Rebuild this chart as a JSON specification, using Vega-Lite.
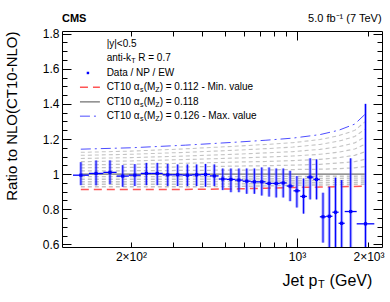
{
  "$schema": "https://vega.github.io/schema/vega-lite/v6.json",
  "width": 320,
  "height": 216,
  "autosize": {"type": "none"},
  "padding": {"left": 62, "top": 31, "right": 8, "bottom": 55},
  "background": "white",
  "config": {
    "font": "Liberation Sans",
    "view": {"stroke": "black", "strokeWidth": 1},
    "axis": {"domain": false, "grid": false, "tickColor": "black", "labelColor": "black", "labelFont": "Liberation Sans", "labelFontSize": 12, "titleFont": "Liberation Sans", "titleColor": "black", "titleFontWeight": "normal"}
  },
  "datasets": {
    "theory": [
      {"pt": 123, "a112": 0.913, "a113": 0.9275, "a114": 0.942, "a115": 0.9565, "a116": 0.971, "a117": 0.9855, "a118": 1, "a119": 1.018, "a120": 1.036, "a121": 1.053, "a122": 1.071, "a123": 1.089, "a124": 1.107, "a125": 1.124, "a126": 1.142},
      {"pt": 200, "a112": 0.913, "a113": 0.928, "a114": 0.942, "a115": 0.957, "a116": 0.971, "a117": 0.986, "a118": 1, "a119": 1.019, "a120": 1.038, "a121": 1.056, "a122": 1.075, "a123": 1.094, "a124": 1.113, "a125": 1.131, "a126": 1.15},
      {"pt": 340, "a112": 0.913, "a113": 0.928, "a114": 0.942, "a115": 0.957, "a116": 0.971, "a117": 0.986, "a118": 1, "a119": 1.021, "a120": 1.041, "a121": 1.062, "a122": 1.083, "a123": 1.103, "a124": 1.124, "a125": 1.144, "a126": 1.165},
      {"pt": 570, "a112": 0.916, "a113": 0.93, "a114": 0.944, "a115": 0.958, "a116": 0.972, "a117": 0.986, "a118": 1, "a119": 1.023, "a120": 1.046, "a121": 1.069, "a122": 1.092, "a123": 1.114, "a124": 1.137, "a125": 1.16, "a126": 1.183},
      {"pt": 740, "a112": 0.92, "a113": 0.933, "a114": 0.947, "a115": 0.96, "a116": 0.973, "a117": 0.987, "a118": 1, "a119": 1.024, "a120": 1.048, "a121": 1.072, "a122": 1.097, "a123": 1.121, "a124": 1.145, "a125": 1.169, "a126": 1.193},
      {"pt": 960, "a112": 0.924, "a113": 0.937, "a114": 0.949, "a115": 0.962, "a116": 0.975, "a117": 0.987, "a118": 1, "a119": 1.026, "a120": 1.051, "a121": 1.077, "a122": 1.103, "a123": 1.128, "a124": 1.154, "a125": 1.179, "a126": 1.205},
      {"pt": 1250, "a112": 0.926, "a113": 0.938, "a114": 0.951, "a115": 0.963, "a116": 0.975, "a117": 0.988, "a118": 1, "a119": 1.028, "a120": 1.056, "a121": 1.084, "a122": 1.113, "a123": 1.141, "a124": 1.169, "a125": 1.197, "a126": 1.225},
      {"pt": 1500, "a112": 0.928, "a113": 0.94, "a114": 0.952, "a115": 0.964, "a116": 0.976, "a117": 0.988, "a118": 1, "a119": 1.031, "a120": 1.063, "a121": 1.094, "a122": 1.125, "a123": 1.156, "a124": 1.188, "a125": 1.219, "a126": 1.25},
      {"pt": 1750, "a112": 0.93, "a113": 0.942, "a114": 0.953, "a115": 0.965, "a116": 0.977, "a117": 0.988, "a118": 1, "a119": 1.036, "a120": 1.071, "a121": 1.107, "a122": 1.143, "a123": 1.178, "a124": 1.214, "a125": 1.249, "a126": 1.285},
      {"pt": 1950, "a112": 0.932, "a113": 0.943, "a114": 0.955, "a115": 0.966, "a116": 0.977, "a117": 0.989, "a118": 1, "a119": 1.043, "a120": 1.086, "a121": 1.129, "a122": 1.173, "a123": 1.216, "a124": 1.259, "a125": 1.302, "a126": 1.345}
    ],
    "legLines": [
      {"key": "a112", "pt": 122, "value": 1.495},
      {"key": "a112", "pt": 148, "value": 1.495},
      {"key": "a118", "pt": 122, "value": 1.411},
      {"key": "a118", "pt": 148, "value": 1.411},
      {"key": "a126", "pt": 122, "value": 1.33},
      {"key": "a126", "pt": 148, "value": 1.33}
    ],
    "points": [
      {"lo": 114, "hi": 133, "pt": 123.1, "r": 0.994, "rlo": 0.937, "rhi": 1.068},
      {"lo": 133, "hi": 153, "pt": 142.6, "r": 1.004, "rlo": 0.936, "rhi": 1.078},
      {"lo": 153, "hi": 174, "pt": 163.2, "r": 1.01, "rlo": 0.943, "rhi": 1.078},
      {"lo": 174, "hi": 196, "pt": 184.7, "r": 0.989, "rlo": 0.928, "rhi": 1.051},
      {"lo": 196, "hi": 220, "pt": 207.7, "r": 0.994, "rlo": 0.932, "rhi": 1.057},
      {"lo": 220, "hi": 245, "pt": 232.2, "r": 1.004, "rlo": 0.937, "rhi": 1.064},
      {"lo": 245, "hi": 272, "pt": 258.1, "r": 1.004, "rlo": 0.937, "rhi": 1.064},
      {"lo": 272, "hi": 300, "pt": 285.7, "r": 0.996, "rlo": 0.932, "rhi": 1.058},
      {"lo": 300, "hi": 330, "pt": 314.6, "r": 0.996, "rlo": 0.932, "rhi": 1.055},
      {"lo": 330, "hi": 362, "pt": 345.6, "r": 0.994, "rlo": 0.932, "rhi": 1.055},
      {"lo": 362, "hi": 395, "pt": 378.1, "r": 0.996, "rlo": 0.932, "rhi": 1.055},
      {"lo": 395, "hi": 430, "pt": 412.1, "r": 0.998, "rlo": 0.928, "rhi": 1.058},
      {"lo": 430, "hi": 468, "pt": 448.6, "r": 0.99, "rlo": 0.932, "rhi": 1.055},
      {"lo": 468, "hi": 507, "pt": 487.1, "r": 0.972, "rlo": 0.909, "rhi": 1.032},
      {"lo": 507, "hi": 548, "pt": 527.1, "r": 0.97, "rlo": 0.897, "rhi": 1.032},
      {"lo": 548, "hi": 592, "pt": 569.6, "r": 0.966, "rlo": 0.897, "rhi": 1.032},
      {"lo": 592, "hi": 638, "pt": 614.6, "r": 0.96, "rlo": 0.888, "rhi": 1.032},
      {"lo": 638, "hi": 686, "pt": 661.6, "r": 0.956, "rlo": 0.888, "rhi": 1.032},
      {"lo": 686, "hi": 737, "pt": 711, "r": 0.956, "rlo": 0.878, "rhi": 1.038},
      {"lo": 737, "hi": 790, "pt": 763, "r": 0.947, "rlo": 0.872, "rhi": 1.038},
      {"lo": 790, "hi": 846, "pt": 817.5, "r": 0.947, "rlo": 0.867, "rhi": 1.032},
      {"lo": 846, "hi": 905, "pt": 875, "r": 0.95, "rlo": 0.867, "rhi": 1.032},
      {"lo": 905, "hi": 967, "pt": 935.5, "r": 0.932, "rlo": 0.846, "rhi": 1.019},
      {"lo": 967, "hi": 1032, "pt": 999, "r": 0.905, "rlo": 0.81, "rhi": 0.989},
      {"lo": 1032, "hi": 1101, "pt": 1066, "r": 0.873, "rlo": 0.775, "rhi": 0.975},
      {"lo": 1101, "hi": 1172, "pt": 1136, "r": 0.983, "rlo": 0.856, "rhi": 1.09},
      {"lo": 1172, "hi": 1248, "pt": 1209, "r": 0.97, "rlo": 0.856, "rhi": 1.084},
      {"lo": 1248, "hi": 1327, "pt": 1287, "r": 0.757, "rlo": 0.61, "rhi": 0.894},
      {"lo": 1327, "hi": 1410, "pt": 1368, "r": 0.76, "rlo": 0.585, "rhi": 0.928},
      {"lo": 1410, "hi": 1497, "pt": 1453, "r": 0.783, "rlo": 0.585, "rhi": 0.98},
      {"lo": 1497, "hi": 1588, "pt": 1542, "r": 0.72, "rlo": 0.585, "rhi": 0.966},
      {"lo": 1588, "hi": 1784, "pt": 1683, "r": 0.787, "rlo": 0.585, "rhi": 1.09},
      {"lo": 1784, "hi": 2116, "pt": 1943, "r": 0.717, "rlo": 0.585, "rhi": 1.4}
    ],
    "legText": [
      {"pt": 158, "r": 1.743, "t": "|y|<0.5"},
      {"pt": 158, "r": 1.576, "t": "Data / NP / EW"}
    ],
    "legMarker": [{"pt": 131.8, "r": 1.576}],
    "antik": [{"pt": 158, "r": 1.661, "a": "anti-k", "b": "T", "c": "R = 0.7"}],
    "ct10": [
      {"pt": 158, "r": 1.495, "a": "CT10 α", "b": "s", "c": "(M", "d": "Z", "e": ") = 0.112 - Min. value"},
      {"pt": 158, "r": 1.411, "a": "CT10 α", "b": "s", "c": "(M", "d": "Z", "e": ") = 0.118"},
      {"pt": 158, "r": 1.33, "a": "CT10 α", "b": "s", "c": "(M", "d": "Z", "e": ") = 0.126 - Max. value"}
    ],
    "xtitle": [{"pt": 870, "r": 0.391, "a": "Jet p", "b": "T", "c": "(GeV)"}],
    "cms": [{"pt": 102.5, "r": 1.881, "t": "CMS"}],
    "lumi": [{"pt": 2270, "r": 1.881, "t": "5.0 fb⁻¹ (7 TeV)"}]
  },
  "resolve": {"axis": {"x": "independent", "y": "independent"}},
  "layer": [
    {
      "data": {"name": "theory"},
      "transform": [{"fold": ["a113", "a114", "a115", "a116", "a117", "a119", "a120", "a121", "a122", "a123", "a124", "a125", "a112", "a118", "a126"]}],
      "mark": {"type": "line", "clip": true},
      "encoding": {
        "x": {"field": "pt", "type": "quantitative", "scale": {"type": "log", "domain": [102.5, 2280], "nice": false},
          "axis": {"orient": "bottom", "title": null, "values": [200, 300, 400, 500, 600, 700, 800, 900, 1000, 2000],
            "labelExpr": "datum.value==200 ? '2×10²' : datum.value==1000 ? '10³' : datum.value==2000 ? '2×10³' : ''",
            "tickSize": {"condition": {"test": "datum.value==1000", "value": -9}, "value": -5},
            "labelPadding": {"condition": {"test": "datum.value==1000", "value": 13}, "value": 9},
            "labelFlush": false}},
        "y": {"field": "value", "type": "quantitative", "scale": {"domain": [0.585, 1.815], "nice": false, "zero": false},
          "axis": {"orient": "left", "values": [0.6, 0.65, 0.7, 0.75, 0.8, 0.85, 0.9, 0.95, 1, 1.05, 1.1, 1.15, 1.2, 1.25, 1.3, 1.35, 1.4, 1.45, 1.5, 1.55, 1.6, 1.65, 1.7, 1.75, 1.8],
            "labelExpr": "abs(datum.value*5-round(datum.value*5))<0.001 ? (abs(datum.value-1)<0.001 ? '1' : format(datum.value, '.1f')) : ''",
            "tickSize": {"condition": {"test": "abs(datum.value*5-round(datum.value*5))<0.001", "value": -9}, "value": -5},
            "labelPadding": {"condition": {"test": "abs(datum.value*5-round(datum.value*5))<0.001", "value": 12}, "value": 8},
            "labelFlush": false,
            "title": "Ratio to NLO(CT10-NLO)", "titleFontSize": 15, "titleAngle": -90, "titleAlign": "right", "titleBaseline": "top", "titleX": -58, "titleY": 0}},
        "detail": {"field": "key"},
        "color": {"field": "key", "type": "nominal", "legend": null,
          "scale": {"domain": ["a112", "a113", "a114", "a115", "a116", "a117", "a118", "a119", "a120", "a121", "a122", "a123", "a124", "a125", "a126"],
            "range": ["#ff5555", "#c4c4c4", "#c4c4c4", "#c4c4c4", "#c4c4c4", "#c4c4c4", "#707070", "#c4c4c4", "#c4c4c4", "#c4c4c4", "#c4c4c4", "#c4c4c4", "#c4c4c4", "#c4c4c4", "#4d4dff"]}},
        "strokeDash": {"field": "key", "type": "nominal", "legend": null,
          "scale": {"domain": ["a112", "a113", "a114", "a115", "a116", "a117", "a118", "a119", "a120", "a121", "a122", "a123", "a124", "a125", "a126"],
            "range": [[8, 5], [4, 3], [4, 3], [4, 3], [4, 3], [4, 3], [1, 0], [4, 3], [4, 3], [4, 3], [4, 3], [4, 3], [4, 3], [4, 3], [10, 4, 2, 4]]}},
        "size": {"field": "key", "type": "nominal", "legend": null,
          "scale": {"domain": ["a112", "a113", "a114", "a115", "a116", "a117", "a118", "a119", "a120", "a121", "a122", "a123", "a124", "a125", "a126"],
            "range": [1.5, 1, 1, 1, 1, 1, 1.3, 1, 1, 1, 1, 1, 1, 1, 1.5]}}
      }
    },
    {
      "data": {"name": "legLines"},
      "mark": {"type": "line"},
      "encoding": {
        "x": {"field": "pt", "type": "quantitative", "axis": null},
        "y": {"field": "value", "type": "quantitative", "axis": null},
        "detail": {"field": "key"},
        "color": {"field": "key", "type": "nominal", "legend": null},
        "strokeDash": {"field": "key", "type": "nominal", "legend": null},
        "size": {"field": "key", "type": "nominal", "legend": null}
      }
    },
    {
      "data": {"name": "points"},
      "mark": {"type": "rule", "color": "#5a5aff", "opacity": 0.5, "strokeWidth": 3, "clip": true},
      "encoding": {
        "x": {"field": "pt", "type": "quantitative", "axis": null},
        "y": {"field": "rlo", "type": "quantitative", "axis": null},
        "y2": {"field": "rhi"}
      }
    },
    {
      "data": {"name": "points"},
      "mark": {"type": "rule", "color": "#0000ff", "strokeWidth": 1, "clip": true},
      "encoding": {
        "x": {"field": "pt", "type": "quantitative", "axis": null},
        "y": {"field": "rlo", "type": "quantitative", "axis": null},
        "y2": {"field": "rhi"}
      }
    },
    {
      "data": {"name": "points"},
      "mark": {"type": "rule", "color": "#0000ff", "strokeWidth": 1.3},
      "encoding": {
        "x": {"field": "lo", "type": "quantitative",
          "axis": {"orient": "top", "labels": false, "title": null, "values": [200, 300, 400, 500, 600, 700, 800, 900, 1000, 2000],
            "tickSize": {"condition": {"test": "datum.value==1000", "value": -9}, "value": -5}}},
        "x2": {"field": "hi"},
        "y": {"field": "r", "type": "quantitative",
          "axis": {"orient": "right", "labels": false, "title": null, "values": [0.6, 0.65, 0.7, 0.75, 0.8, 0.85, 0.9, 0.95, 1, 1.05, 1.1, 1.15, 1.2, 1.25, 1.3, 1.35, 1.4, 1.45, 1.5, 1.55, 1.6, 1.65, 1.7, 1.75, 1.8],
            "tickSize": {"condition": {"test": "abs(datum.value*5-round(datum.value*5))<0.001", "value": -9}, "value": -5}}}
      }
    },
    {
      "data": {"name": "points"},
      "mark": {"type": "point", "shape": "square", "filled": true, "size": 10, "color": "#0000ff", "opacity": 1},
      "encoding": {
        "x": {"field": "pt", "type": "quantitative", "axis": null},
        "y": {"field": "r", "type": "quantitative", "axis": null}
      }
    },
    {
      "data": {"name": "legMarker"},
      "mark": {"type": "point", "shape": "square", "filled": true, "size": 6, "color": "#0000ff", "opacity": 1},
      "encoding": {
        "x": {"field": "pt", "type": "quantitative", "axis": null},
        "y": {"field": "r", "type": "quantitative", "axis": null}
      }
    },
    {
      "data": {"name": "legText"},
      "mark": {"type": "text", "align": "left", "baseline": "middle", "fontSize": 10, "color": "black"},
      "encoding": {
        "x": {"field": "pt", "type": "quantitative", "axis": null},
        "y": {"field": "r", "type": "quantitative", "axis": null},
        "text": {"field": "t"}
      }
    },
    {
      "data": {"name": "antik"},
      "mark": {"type": "text", "align": "left", "baseline": "middle", "fontSize": 10, "color": "black"},
      "encoding": {
        "x": {"field": "pt", "type": "quantitative", "axis": null},
        "y": {"field": "r", "type": "quantitative", "axis": null},
        "text": {"field": "a"}
      }
    },
    {
      "data": {"name": "antik"},
      "mark": {"type": "text", "align": "left", "baseline": "middle", "fontSize": 7, "dx": 24.5, "dy": 3, "color": "black"},
      "encoding": {
        "x": {"field": "pt", "type": "quantitative", "axis": null},
        "y": {"field": "r", "type": "quantitative", "axis": null},
        "text": {"field": "b"}
      }
    },
    {
      "data": {"name": "antik"},
      "mark": {"type": "text", "align": "left", "baseline": "middle", "fontSize": 10, "dx": 31.6, "color": "black"},
      "encoding": {
        "x": {"field": "pt", "type": "quantitative", "axis": null},
        "y": {"field": "r", "type": "quantitative", "axis": null},
        "text": {"field": "c"}
      }
    },
    {
      "data": {"name": "ct10"},
      "mark": {"type": "text", "align": "left", "baseline": "middle", "fontSize": 10, "color": "black"},
      "encoding": {
        "x": {"field": "pt", "type": "quantitative", "axis": null},
        "y": {"field": "r", "type": "quantitative", "axis": null},
        "text": {"field": "a"}
      }
    },
    {
      "data": {"name": "ct10"},
      "mark": {"type": "text", "align": "left", "baseline": "middle", "fontSize": 7, "dx": 33.3, "dy": 3, "color": "black"},
      "encoding": {
        "x": {"field": "pt", "type": "quantitative", "axis": null},
        "y": {"field": "r", "type": "quantitative", "axis": null},
        "text": {"field": "b"}
      }
    },
    {
      "data": {"name": "ct10"},
      "mark": {"type": "text", "align": "left", "baseline": "middle", "fontSize": 10, "dx": 37, "color": "black"},
      "encoding": {
        "x": {"field": "pt", "type": "quantitative", "axis": null},
        "y": {"field": "r", "type": "quantitative", "axis": null},
        "text": {"field": "c"}
      }
    },
    {
      "data": {"name": "ct10"},
      "mark": {"type": "text", "align": "left", "baseline": "middle", "fontSize": 7, "dx": 48.5, "dy": 3, "color": "black"},
      "encoding": {
        "x": {"field": "pt", "type": "quantitative", "axis": null},
        "y": {"field": "r", "type": "quantitative", "axis": null},
        "text": {"field": "d"}
      }
    },
    {
      "data": {"name": "ct10"},
      "mark": {"type": "text", "align": "left", "baseline": "middle", "fontSize": 10, "dx": 53, "color": "black"},
      "encoding": {
        "x": {"field": "pt", "type": "quantitative", "axis": null},
        "y": {"field": "r", "type": "quantitative", "axis": null},
        "text": {"field": "e"}
      }
    },
    {
      "data": {"name": "xtitle"},
      "mark": {"type": "text", "align": "left", "baseline": "middle", "fontSize": 16, "color": "black"},
      "encoding": {
        "x": {"field": "pt", "type": "quantitative", "axis": null},
        "y": {"field": "r", "type": "quantitative", "axis": null},
        "text": {"field": "a"}
      }
    },
    {
      "data": {"name": "xtitle"},
      "mark": {"type": "text", "align": "left", "baseline": "middle", "fontSize": 11, "dx": 35.5, "dy": 4, "color": "black"},
      "encoding": {
        "x": {"field": "pt", "type": "quantitative", "axis": null},
        "y": {"field": "r", "type": "quantitative", "axis": null},
        "text": {"field": "b"}
      }
    },
    {
      "data": {"name": "xtitle"},
      "mark": {"type": "text", "align": "left", "baseline": "middle", "fontSize": 16, "dx": 47, "color": "black"},
      "encoding": {
        "x": {"field": "pt", "type": "quantitative", "axis": null},
        "y": {"field": "r", "type": "quantitative", "axis": null},
        "text": {"field": "c"}
      }
    },
    {
      "data": {"name": "cms"},
      "mark": {"type": "text", "align": "left", "baseline": "middle", "fontSize": 11, "fontWeight": "bold", "color": "black"},
      "encoding": {
        "x": {"field": "pt", "type": "quantitative", "axis": null},
        "y": {"field": "r", "type": "quantitative", "axis": null},
        "text": {"field": "t"}
      }
    },
    {
      "data": {"name": "lumi"},
      "mark": {"type": "text", "align": "right", "baseline": "middle", "fontSize": 11, "color": "black"},
      "encoding": {
        "x": {"field": "pt", "type": "quantitative", "axis": null},
        "y": {"field": "r", "type": "quantitative", "axis": null},
        "text": {"field": "t"}
      }
    }
  ]
}
